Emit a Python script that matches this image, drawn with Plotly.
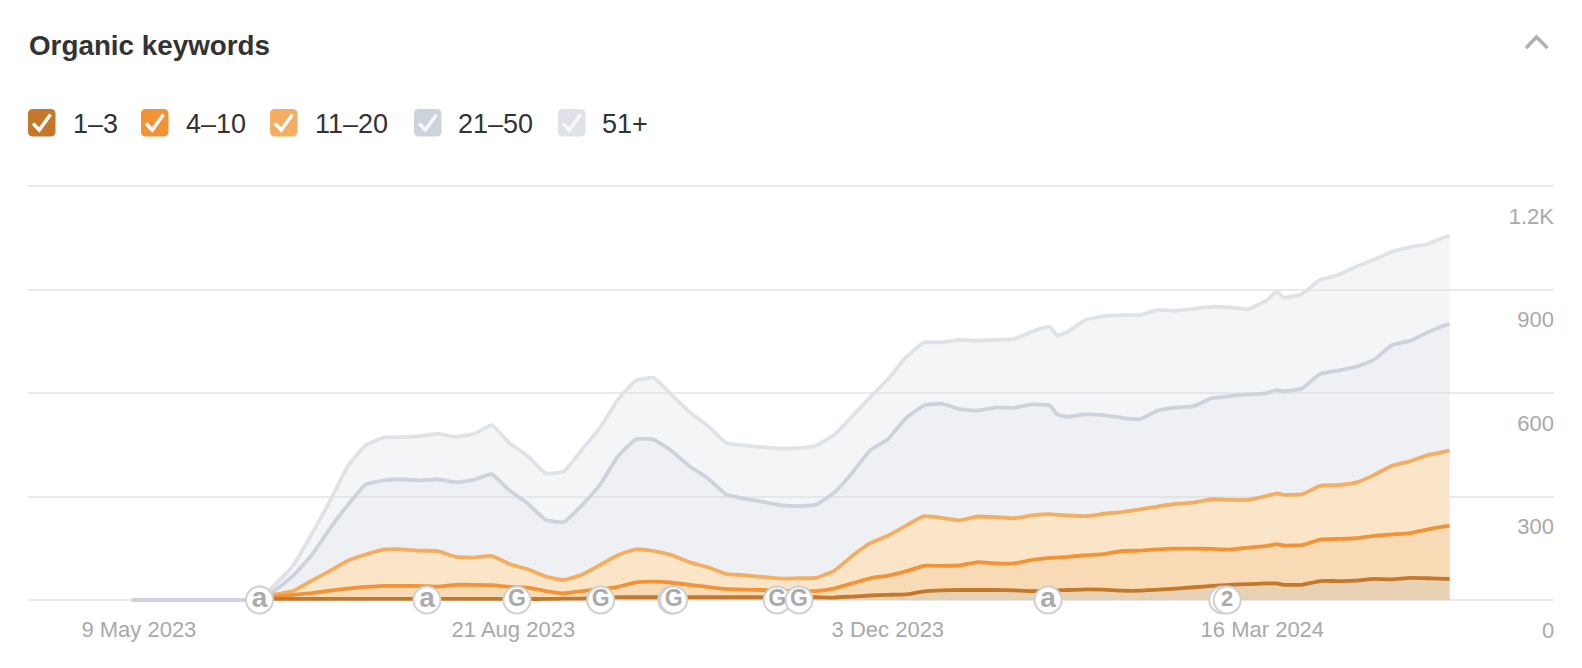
import pandas as pd
import plotly.graph_objects as go

WIDTH, HEIGHT = 1582, 668
LEFT, RIGHT = 28, 1554
# Two extra pixels at each end of the value axis keep the 0 and 1.2K gridlines drawn
TOP, BASE = 184, 602
UNITS_PER_PX = 300 / 103.5
Y_PAD = 2 * UNITS_PER_PX

# Sampling dates: five-day steps, plus two days that carry a visible dip and spike
grid = pd.date_range("2023-06-11", periods=67, freq="5D")
grid = grid.union(pd.to_datetime(["2024-01-19", "2024-03-20"]))
dates = [pd.Timestamp("2023-05-07"), pd.Timestamp("2023-06-06")] + list(grid) + [pd.Timestamp("2024-05-07")]

# Keyword totals by position bucket, read as the running total up to each bucket
top_3 = [None, None] + [3] * 17 + [
    4, 4, 6, 8, 8, 8, 8, 8, 8, 8, 8, 8, 8, 8, 8, 7,
    10, 13, 15, 16, 25, 28, 29, 29, 29, 28, 26, 27, 28, 29, 31, 30, 27,
    27, 30, 33, 37, 41, 44, 46, 48, 48, 44, 44, 55, 55, 56, 61, 60, 64, 63, 61, 61,
]
top_10 = [
    None, None, 3, 10, 15, 20, 27, 33, 38, 41, 41, 41, 39, 44, 44, 43, 38, 36, 26,
    19, 26, 31, 38, 51, 53, 50, 44, 38, 32, 30, 29, 27, 26, 26, 33,
    48, 63, 71, 83, 99, 99, 100, 110, 106, 106, 116, 122, 123, 125, 130, 133, 142,
    143, 147, 149, 149, 148, 146, 152, 156, 162, 158, 159, 175, 177, 179, 186, 190, 194, 205, 214, 215,
]
top_20 = [
    None, None, 3, 16, 27, 56, 84, 114, 132, 146, 147, 143, 142, 125, 123, 128, 104, 89, 68,
    58, 73, 101, 130, 147, 142, 130, 109, 95, 76, 72, 67, 62, 63, 64, 84,
    127, 164, 186, 215, 243, 238, 231, 242, 240, 237, 245, 249, 247, 245, 243, 250, 255,
    263, 271, 279, 282, 292, 290, 290, 301, 309, 305, 306, 331, 333, 340, 362, 389, 402, 420, 431, 433,
]
top_50 = [
    0, 0, 0, 29, 72, 130, 206, 275, 335, 347, 350, 347, 350, 341, 348, 365, 317, 280, 232,
    226, 274, 333, 416, 466, 465, 432, 387, 353, 307, 294, 285, 275, 272, 276, 310,
    367, 433, 466, 527, 564, 569, 553, 549, 558, 557, 567, 564, 538, 531, 538, 536, 528,
    524, 549, 558, 562, 585, 591, 596, 599, 609, 605, 613, 655, 665, 676, 696, 739, 751, 776, 797, 800,
]
all_keywords = [
    0, 0, 0, 46, 102, 191, 285, 388, 449, 471, 472, 475, 482, 473, 481, 507, 454, 417, 367,
    372, 435, 498, 580, 636, 644, 594, 544, 505, 456, 448, 443, 439, 440, 447, 478,
    531, 587, 640, 703, 746, 747, 754, 752, 754, 756, 778, 792, 766, 778, 812, 823, 826,
    826, 841, 838, 844, 850, 848, 843, 867, 894, 876, 887, 928, 942, 966, 986, 1009, 1023, 1032, 1053, 1055,
]

bucket_labels = ["1–3", "4–10", "11–20", "21–50", "51+"]
bucket_series = [top_3, top_10, top_20, top_50, all_keywords]
line_colors = ["#c4782c", "#f29337", "#f3ae62", "#cdd3dc", "#dfe2e7"]
fill_colors = [
    "rgba(218,199,177,0.5)",
    "rgba(245,209,161,0.5)",
    "rgba(253,227,193,0.85)",
    "rgba(205,211,220,0.13)",
    "rgba(223,226,231,0.35)",
]

tick_dates = ["2023-05-09", "2023-08-21", "2023-12-03", "2024-03-16"]
tick_date_labels = ["9 May 2023", "21 Aug 2023", "3 Dec 2023", "16 Mar 2024"]
tick_values = [0, 300, 600, 900, 1200]
tick_value_labels = ["", "300", "600", "900", "1.2K"]

# Algorithm updates and site events pinned to the baseline
event_dates = [
    "2023-06-11 12:00", "2023-07-28", "2023-08-22", "2023-09-14 06:00", "2023-10-04",
    "2023-10-04 12:00", "2023-11-02 06:00", "2023-11-08 08:00", "2024-01-16 12:00",
    "2024-03-05", "2024-03-06 06:00",
]
event_labels = ["a", "a", "G", "G", "", "G", "G", "G", "a", "", "2"]
event_label_sizes = [28, 28, 23, 23, 23, 23, 23, 23, 28, 22, 22]


def px_x(x):
    return (x - LEFT) / (RIGHT - LEFT)


def px_y(y):
    return (BASE - y) / (BASE - TOP)


def paper_path(points):
    return " ".join(
        f"{'M' if i == 0 else 'L'}{px_x(x):.5f},{px_y(y):.5f}" for i, (x, y) in enumerate(points)
    )


def rounded_box(x0, y0, size, r):
    x1, y1 = x0 + size, y0 + size

    def p(x, y):
        return f"{px_x(x):.5f},{px_y(y):.5f}"

    return (
        f"M{p(x0 + r, y0)} L{p(x1 - r, y0)} Q{p(x1, y0)} {p(x1, y0 + r)} "
        f"L{p(x1, y1 - r)} Q{p(x1, y1)} {p(x1 - r, y1)} L{p(x0 + r, y1)} "
        f"Q{p(x0, y1)} {p(x0, y1 - r)} L{p(x0, y0 + r)} Q{p(x0, y0)} {p(x0 + r, y0)} Z"
    )


fig = go.Figure()

# Widest bucket goes first so the narrower ones sit on top of its fill
for i in reversed(range(len(bucket_series))):
    fig.add_trace(go.Scatter(
        x=dates,
        y=bucket_series[i],
        name=bucket_labels[i],
        mode="lines",
        line=dict(color=line_colors[i], width=3.8, shape="spline", smoothing=0.35),
        fill="tozeroy",
        fillcolor=fill_colors[i],
        hoverinfo="skip",
        connectgaps=False,
        showlegend=False,
        cliponaxis=False,
    ))

fig.add_trace(go.Scatter(
    x=event_dates,
    y=[0] * len(event_dates),
    mode="markers+text",
    text=event_labels,
    textposition="middle center",
    textfont=dict(family="Liberation Sans", size=event_label_sizes, color="#ababab", weight="bold"),
    marker=dict(size=27, color="white", line=dict(color="#cfd0d2", width=2)),
    hoverinfo="skip",
    showlegend=False,
    cliponaxis=False,
))

shapes = []
annotations = [
    dict(
        text="<b>Organic keywords</b>",
        x=px_x(26.5), y=px_y(45), xref="paper", yref="paper",
        xanchor="left", yanchor="middle", showarrow=False,
        font=dict(family="Liberation Sans", size=27.8, color="#333333"),
    ),
    # The zero label sits below the plot area, where inside tick labels get dropped
    dict(
        text="0",
        x=px_x(1556), y=px_y(630), xref="paper", yref="paper",
        xanchor="right", yanchor="middle", showarrow=False,
        font=dict(family="Liberation Sans", size=22, color="#a9a9a9"),
    ),
]

# Checkbox row above the plot
box_lefts = [28, 141, 270, 414, 558]
label_lefts = [70.5, 184, 313, 456, 600]
for i, label in enumerate(bucket_labels):
    shapes.append(dict(
        type="path", xref="paper", yref="paper",
        path=rounded_box(box_lefts[i], 109, 27.5, 5),
        fillcolor=line_colors[i], line=dict(width=0),
    ))
    x0 = box_lefts[i]
    shapes.append(dict(
        type="path", xref="paper", yref="paper",
        path=paper_path([(x0 + 5, 123.5), (x0 + 11.3, 130), (x0 + 22.5, 114.5)]),
        line=dict(color="rgba(255,255,255,0.97)" if i < 3 else "rgba(255,255,255,0.8)", width=3.6),
    ))
    annotations.append(dict(
        text=label, x=px_x(label_lefts[i]), y=px_y(124), xref="paper", yref="paper",
        xanchor="left", yanchor="middle", showarrow=False,
        font=dict(family="Liberation Sans", size=27, color="#333333"),
    ))

# Collapse chevron in the header
shapes.append(dict(
    type="path", xref="paper", yref="paper",
    path=paper_path([(1526, 48), (1536.5, 37), (1547.5, 48)]),
    line=dict(color="#b2b2b2", width=3.6),
))

fig.update_layout(
    width=WIDTH,
    height=HEIGHT,
    margin=dict(l=LEFT, r=WIDTH - RIGHT, t=TOP, b=HEIGHT - BASE, pad=0),
    paper_bgcolor="white",
    plot_bgcolor="white",
    shapes=shapes,
    annotations=annotations,
    xaxis=dict(
        type="date",
        range=["2023-04-08 05:00", "2024-06-05"],
        tickmode="array",
        tickvals=tick_dates,
        ticktext=tick_date_labels,
        ticks="",
        showgrid=False,
        zeroline=False,
        showline=False,
        ticklabelstandoff=12,
        tickfont=dict(family="Liberation Sans", size=22, color="#a9a9a9"),
    ),
    yaxis=dict(
        side="right",
        range=[-Y_PAD, 1200 + Y_PAD],
        tickmode="array",
        tickvals=tick_values,
        ticktext=tick_value_labels,
        ticks="",
        ticklabelposition="inside",
        ticklabelshift=30,
        ticklabelstandoff=-3,
        showgrid=True,
        gridcolor="#e9eaec",
        gridwidth=2,
        zeroline=False,
        showline=False,
        tickfont=dict(family="Liberation Sans", size=22, color="#a9a9a9"),
    ),
)

fig.write_html("out.html", config={"displayModeBar": False})
